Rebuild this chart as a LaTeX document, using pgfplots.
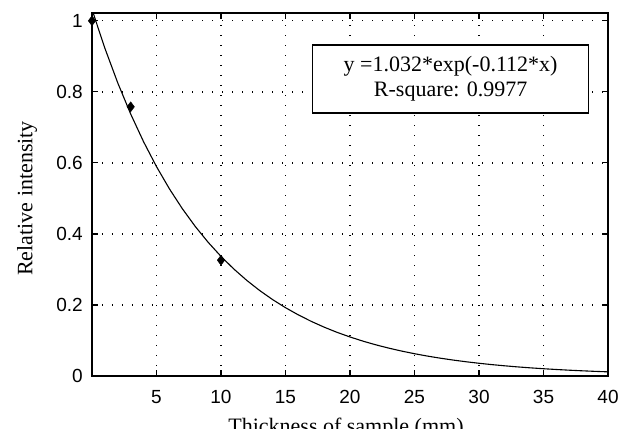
\documentclass[border=0pt]{standalone}
\usepackage{fontspec}
\setmainfont{Liberation Serif}
\newfontfamily\ticksans{Liberation Sans}
\usepackage{pgfplots}
\pgfplotsset{compat=1.18}

\begin{document}
\begin{tikzpicture}
\begin{axis}[
  name=ax,
  scale only axis,
  width=516pt, height=363pt,
  xmin=0, xmax=40,
  ymin=0, ymax=1.022,
  xtick={5,10,...,40},
  ytick={0,0.2,0.4,0.6,0.8,1},
  tick align=inside,
  major tick length=6pt,
  axis line style={line width=1.4pt},
  every tick/.style={black, line width=1.2pt},
  grid=major,
  major grid style={black, line width=1.3pt, dash pattern=on 1.3pt off 8.7pt},
  /pgf/number format/assume math mode=true,
  tick label style={font=\ticksans\fontsize{19}{19}\selectfont},
  xticklabel style={anchor=base, inner sep=0pt, yshift=-27pt},
  yticklabel style={anchor=east, inner sep=0pt, xshift=-9pt},
  label style={font=\fontsize{22}{25}\selectfont},
  xlabel={Thickness of sample (mm)},
  ylabel={Relative intensity},
  xlabel style={at={(axis description cs:0.5,0)}, anchor=base, yshift=-57pt, xshift=-4pt},
  ylabel style={at={(axis description cs:0,0.5)}, anchor=center, yshift=65pt, xshift=-4pt},
  clip mode=individual,
]
% fitted curve y = 1.032*exp(-0.112*x), tabulated
\addplot[black, line width=1.1pt] coordinates {
(0,1.03200)(1,0.92265)(2,0.82490)(3,0.73749)(4,0.65937)(5,0.58949)
(6,0.52703)(7,0.47119)(8,0.42126)(9,0.37662)(10,0.33672)(11,0.30105)
(12,0.26915)(13,0.24063)(14,0.21513)(15,0.19233)(16,0.17196)(17,0.15374)
(18,0.13745)(19,0.12289)(20,0.10987)(21,0.09823)(22,0.08782)(23,0.07852)
(24,0.07020)(25,0.06276)(26,0.05611)(27,0.05017)(28,0.04485)(29,0.04010)
(30,0.03585)(31,0.03205)(32,0.02866)(33,0.02562)(34,0.02290)(35,0.02048)
(36,0.01831)(37,0.01637)(38,0.01463)(39,0.01308)(40,0.01170)};
% measured points
\addplot[only marks, mark=diamond*, mark size=5pt, black] coordinates {
(0,1.0)(3,0.758)(10,0.326)};
\node[draw=black, line width=1.3pt, fill=white, align=center,
      minimum width=276pt, minimum height=68pt, inner sep=0pt,
      font=\fontsize{22}{25}\selectfont]
  at (rel axis cs:0.695,0.8185) {y =1.032*exp(-0.112*x)\\R-square: 0.9977};
\end{axis}
% the source image is cut off below the x label
\fill[white] ([shift={(-92pt,-53pt)}]ax.south west) rectangle ([shift={(18pt,-62pt)}]ax.south east);
\pgfresetboundingbox
\path ([shift={(-92pt,-61pt)}]ax.south west) rectangle ([shift={(18pt,13pt)}]ax.north east);
\end{tikzpicture}
\end{document}
